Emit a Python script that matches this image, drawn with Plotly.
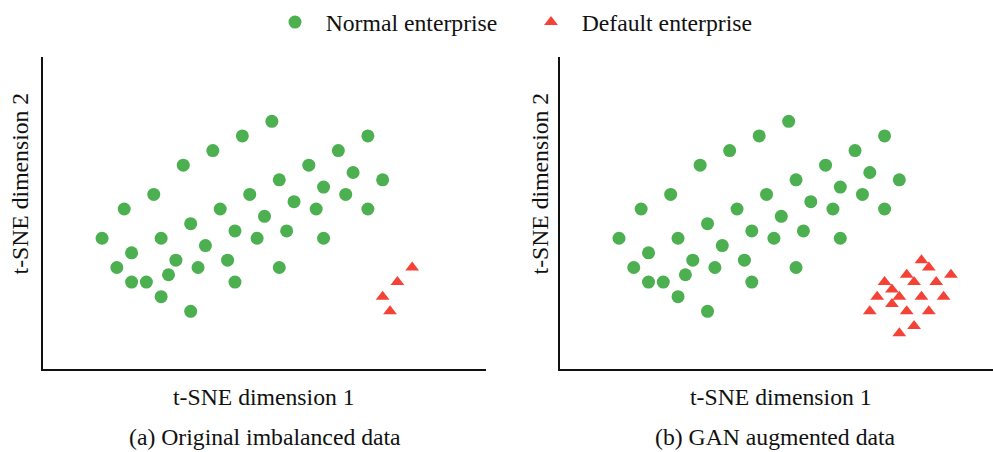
import plotly.graph_objects as go

# t-SNE embedding coordinates (dimension 1, dimension 2)
normal_x = [23, 19, 15, 11, 7, 3, 0,
            36, 32, 28, 34, 38, 24, 30, 33, 20, 26, 29, 36, 16,
            22, 12, 18, 25, 21, 30, 8, 14, 4, 10, 17, 2, 13, 24,
            9, 4, 6, 18, 8, 12]
normal_y = [26, 24, 22, 20, 16, 14, 10,
            24, 22, 20, 19, 18, 18, 17, 16, 16, 15, 14, 14, 14,
            13, 12, 11, 11, 10, 10, 10, 9, 8, 7, 7, 6, 6, 6,
            5, 4, 4, 4, 2, 0]

default_orig_x = [42, 40, 38, 39]
default_orig_y = [6, 4, 2, 0]

default_gan_x = [41, 42, 45, 39, 36, 40, 43, 37, 35, 38, 41, 44, 37, 34, 39, 42, 40, 38]
default_gan_y = [7, 6, 5, 5, 4, 4, 4, 3, 2, 2, 2, 2, 1, 0, 0, 0, -2, -3]

legend_names = ["Normal enterprise", "Default enterprise"]
axis_titles = ["t-SNE dimension 1", "t-SNE dimension 2"]
captions = ["(a) Original imbalanced data", "(b) GAN augmented data"]

GREEN = "#4CAF50"
RED = "#F44336"
FONT = "Liberation Serif"
FS = 23.7
W, H = 993, 452
PAD = "\u00a0\u2009"  # extra gap between legend symbol and label

fig = go.Figure()

circle = dict(color=GREEN, size=13, symbol="circle")
tri = dict(color=RED, size=12, symbol="triangle-up")

fig.add_trace(go.Scatter(x=normal_x, y=normal_y, mode="markers", marker=circle,
                         name=PAD + legend_names[0], xaxis="x", yaxis="y"))
fig.add_trace(go.Scatter(x=default_orig_x, y=default_orig_y, mode="markers", marker=tri,
                         name=PAD + legend_names[1], xaxis="x", yaxis="y"))
fig.add_trace(go.Scatter(x=normal_x, y=normal_y, mode="markers", marker=circle,
                         name=legend_names[0], showlegend=False, xaxis="x2", yaxis="y2"))
fig.add_trace(go.Scatter(x=default_gan_x, y=default_gan_y, mode="markers", marker=tri,
                         name=legend_names[1], showlegend=False, xaxis="x2", yaxis="y2"))

ydom = [(H - 368.3) / H, (H - 53.5) / H]
axis_common = dict(showgrid=False, zeroline=False, showticklabels=False, ticks="",
                   showline=True, linecolor="#111", linewidth=1.6, fixedrange=True)

fig.update_layout(
    width=W, height=H,
    margin=dict(l=0, r=0, t=0, b=0),
    paper_bgcolor="white", plot_bgcolor="white",
    font=dict(family=FONT, size=FS, color="#111"),
    xaxis=dict(domain=[43 / W, 486 / W], range=[-8, 52], **axis_common),
    yaxis=dict(domain=ydom, range=[-7.9, 34.8], **axis_common),
    xaxis2=dict(domain=[560 / W, 1], range=[-8, 50.7], anchor="y2", **axis_common),
    yaxis2=dict(domain=ydom, range=[-7.9, 34.8], anchor="x2", **axis_common),
    showlegend=True,
    legend=dict(orientation="h", x=275 / W, xanchor="left", y=(H - 18.3) / H, yanchor="middle",
                font=dict(family=FONT, size=FS, color="#111"),
                bgcolor="rgba(0,0,0,0)", itemclick=False, itemdoubleclick=False,
                entrywidth=211, entrywidthmode="pixels"),
)

annotations = []
for cx, ycx in [(263.7, 20), (780.7, 540)]:
    annotations.append(dict(text=axis_titles[0], x=cx / W, y=(H - 397) / H, xref="paper", yref="paper",
                            xanchor="center", yanchor="middle", showarrow=False,
                            font=dict(family=FONT, size=FS, color="#111")))
    annotations.append(dict(text=axis_titles[1], x=ycx / W, y=(H - 181) / H, xref="paper", yref="paper",
                            xanchor="center", yanchor="middle", showarrow=False, textangle=-90,
                            font=dict(family=FONT, size=FS, color="#111")))
for cx, cap in [(265, captions[0]), (775.7, captions[1])]:
    annotations.append(dict(text=cap, x=cx / W, y=(H - 437) / H, xref="paper", yref="paper",
                            xanchor="center", yanchor="middle", showarrow=False,
                            font=dict(family=FONT, size=FS, color="#111")))
fig.update_layout(annotations=annotations)

fig.write_html("out.html", config={"displayModeBar": False})
